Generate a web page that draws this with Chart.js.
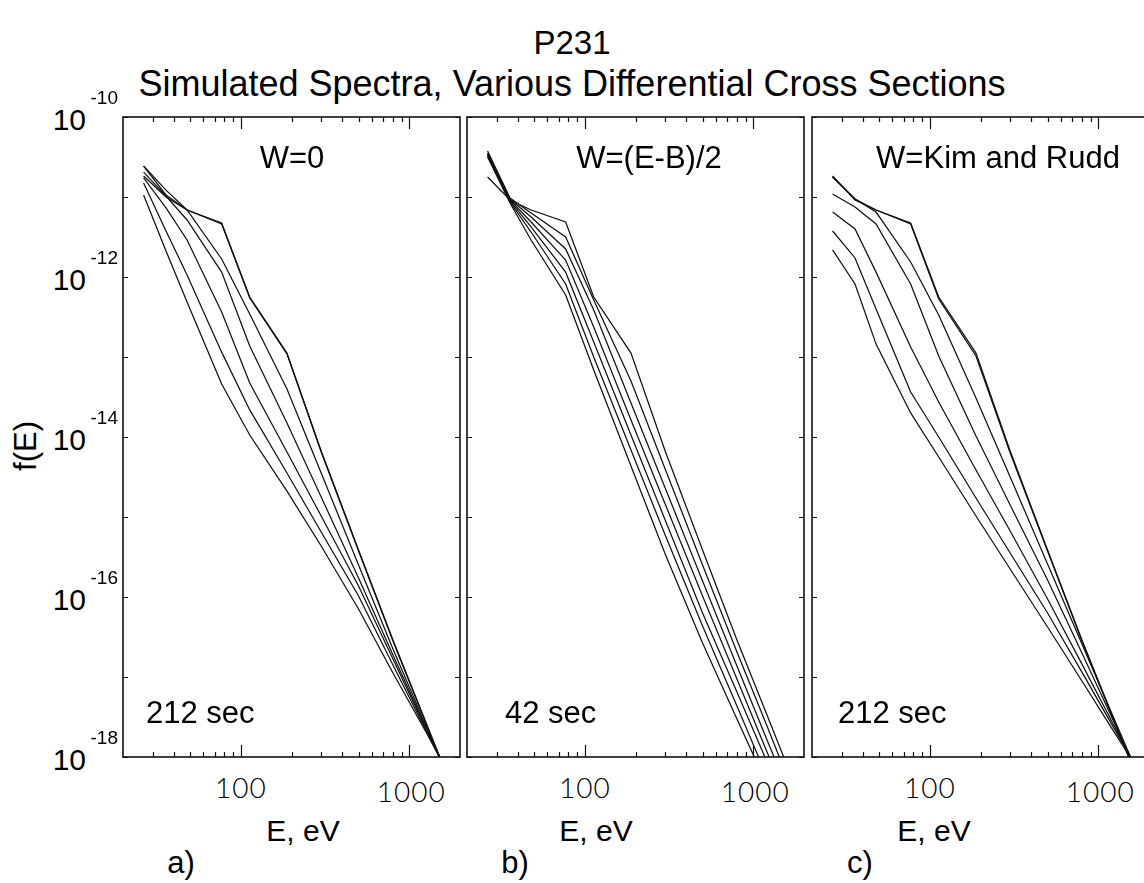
<!DOCTYPE html>
<html>
<head>
<meta charset="utf-8">
<script src="https://cdn.jsdelivr.net/npm/chart.js@4/dist/chart.umd.min.js"></script>
<style>
html,body{margin:0;padding:0;background:#fff;overflow:hidden;width:1144px;height:883px;}
#wrap{position:relative;width:1144px;height:883px;overflow:hidden;font-family:"Liberation Sans",Arial,Helvetica,sans-serif;color:#000;}
canvas.cv{position:absolute;}
.t{position:absolute;white-space:nowrap;line-height:1;}
.light{font-family:"Lato","Roboto","DejaVu Sans",sans-serif;font-weight:300;}
</style>
</head>
<body>
<div id="wrap"></div>
<script>
// ---------------- DATA ----------------
const energyEV = [26.5, 36, 48, 77, 113, 188, 300, 500, 800, 1200, 1600];

// a) W=0, 212 sec
const w0_t1 = [1.06e-11, 2.11e-12, 4.87e-13, 4.6e-14, 1.06e-14, 2.11e-15, 4.34e-16, 7.08e-17, 1.12e-17, 2.44e-18, 8.2e-19];
const w0_t2 = [1.5e-11, 3.76e-12, 1.06e-12, 1.15e-13, 2.18e-14, 3.55e-15, 6.49e-16, 1.03e-16, 1.41e-17, 2.58e-18, 7.7e-19];
const w0_t3 = [1.73e-11, 7.29e-12, 2.9e-12, 3.65e-13, 4.73e-14, 6.49e-15, 1.03e-15, 1.37e-16, 1.68e-17, 2.74e-18, 7.7e-19];
const w0_t4 = [2.05e-11, 1.03e-11, 5.16e-12, 1.15e-12, 1.37e-13, 1.5e-14, 1.78e-15, 1.73e-16, 1.88e-17, 2.9e-18, 7.7e-19];
const w0_t5 = [2.44e-11, 1.22e-11, 6.88e-12, 1.68e-12, 3.45e-13, 3.98e-14, 3.55e-15, 2.51e-16, 2.24e-17, 3.07e-18, 7.7e-19];
const w0_t6 = [2.44e-11, 1.06e-11, 6.88e-12, 4.6e-12, 5.46e-13, 1.09e-13, 6.49e-15, 3.76e-16, 2.82e-17, 3.35e-18, 7.5e-19];
const w0_t7 = [1.83e-11, 1.0e-11, 6.88e-12, 4.73e-12, 5.62e-13, 1.12e-13, 6.68e-15, 3.87e-16, 2.9e-17, 3.45e-18, 7.5e-19];

// b) W=(E-B)/2, 42 sec
const half_t1 = [3.16e-11, 8.41e-12, 2.9e-12, 5.96e-13, 6.88e-14, 4.34e-15, 3.45e-16, 2.66e-17, 2.99e-18, 4.6e-19, 1.22e-19];
const half_t2 = [3.25e-11, 8.66e-12, 3.65e-12, 8.17e-13, 1.0e-13, 6.88e-15, 5.96e-16, 4.34e-17, 4.34e-18, 5.79e-19, 1.41e-19];
const half_t3 = [3.35e-11, 8.91e-12, 4.22e-12, 1.15e-12, 1.54e-13, 1.06e-14, 9.17e-16, 6.31e-17, 6.49e-18, 8.91e-19, 2.11e-19];
const half_t4 = [3.45e-11, 9.17e-12, 4.87e-12, 1.63e-12, 2.37e-13, 1.63e-14, 1.45e-15, 1.03e-16, 9.44e-18, 1.19e-18, 2.74e-19];
const half_t5 = [3.55e-11, 9.44e-12, 5.62e-12, 2.24e-12, 3.87e-13, 2.66e-14, 2.3e-15, 1.58e-16, 1.37e-17, 1.68e-18, 3.87e-19];
const half_t6 = [3.76e-11, 9.72e-12, 6.31e-12, 3.16e-12, 5.16e-13, 5.01e-14, 3.98e-15, 2.51e-16, 2.05e-17, 2.51e-18, 5.46e-19];
const half_t7 = [1.78e-11, 9.17e-12, 6.88e-12, 4.87e-12, 5.62e-13, 1.12e-13, 6.68e-15, 3.87e-16, 2.9e-17, 3.45e-18, 7.5e-19];

// c) W=Kim and Rudd, 212 sec
const kr_t1 = [2.18e-12, 8.17e-13, 1.45e-13, 2.0e-14, 5.62e-15, 1.03e-15, 2.24e-16, 4.22e-17, 8.91e-18, 2.3e-18, 8.91e-19];
const kr_t2 = [3.76e-12, 1.73e-12, 3.98e-13, 3.65e-14, 1.0e-14, 1.73e-15, 3.55e-16, 6.31e-17, 1.15e-17, 2.58e-18, 8.91e-19];
const kr_t3 = [6.49e-12, 3.98e-12, 1.15e-12, 1.33e-13, 2.74e-14, 3.87e-15, 6.68e-16, 9.44e-17, 1.45e-17, 2.82e-18, 8.91e-19];
const kr_t4 = [1.09e-11, 7.5e-12, 4.6e-12, 8.17e-13, 1.03e-13, 1.03e-14, 1.41e-15, 1.63e-16, 2.0e-17, 3.16e-18, 8.66e-19];
const kr_t5 = [1.78e-11, 9.44e-12, 6.49e-12, 1.54e-12, 3.35e-13, 3.07e-14, 3.16e-15, 2.58e-16, 2.58e-17, 3.55e-18, 8.66e-19];
const kr_t6 = [1.78e-11, 9.44e-12, 6.88e-12, 4.6e-12, 5.31e-13, 1.03e-13, 6.31e-15, 3.76e-16, 2.82e-17, 3.35e-18, 7.5e-19];
const kr_t7 = [1.83e-11, 9.17e-12, 6.88e-12, 4.73e-12, 5.62e-13, 1.12e-13, 6.68e-15, 3.87e-16, 2.9e-17, 3.45e-18, 7.5e-19];

// axes / ticks / texts
const xRange = [20, 2000];
const yRange = [1e-18, 1e-10];
const xMajorTicks = [100, 1000];
const xMinorTicks = [30, 40, 50, 60, 70, 80, 90, 200, 300, 400, 500, 600, 700, 800, 900];
const yDecadeTicks = [1e-10, 1e-11, 1e-12, 1e-13, 1e-14, 1e-15, 1e-16, 1e-17, 1e-18];
const yLabelTicks = [1e-10, 1e-12, 1e-14, 1e-16, 1e-18];
const yLabelExponents = ["-10", "-12", "-14", "-16", "-18"];
const xTickLabels = ["100", "1000"];
const titleLines = ["P231", "Simulated Spectra, Various Differential Cross Sections"];
const yAxisTitle = "f(E)";
const xAxisTitle = "E, eV";
const panelLetters = ["a)", "b)", "c)"];
const panelHeaders = ["W=0", "W=(E-B)/2", "W=Kim and Rudd"];
const panelTimes = ["212 sec", "42 sec", "212 sec"];

// ---------------- LAYOUT ----------------
const panelSeries = [
  [w0_t1, w0_t2, w0_t3, w0_t4, w0_t5, w0_t6, w0_t7],
  [half_t1, half_t2, half_t3, half_t4, half_t5, half_t6, half_t7],
  [kr_t1, kr_t2, kr_t3, kr_t4, kr_t5, kr_t6, kr_t7]
];
const plotLefts = [123, 467, 812];
const plotTop = 117, plotW = 337, plotH = 640, PAD = 12;
const headerX = [292, 649, 998];
const timeX = [146, 505, 838];
const eLabelX = [303, 596, 934];
const letterX = [181, 515, 860];

const wrap = document.getElementById('wrap');
function addText(txt, x, baseline, fs, align, cls, extra) {
  const d = document.createElement('div');
  d.className = 't' + (cls ? ' ' + cls : '');
  d.style.fontSize = fs + 'px';
  d.textContent = txt;
  d.style.top = (baseline - 0.8465 * fs) + 'px';
  if (align === 'c') { d.style.left = x + 'px'; d.style.transform = 'translateX(-50%)'; }
  else if (align === 'r') { d.style.right = (1144 - x) + 'px'; }
  else { d.style.left = x + 'px'; }
  if (extra) Object.assign(d.style, extra);
  wrap.appendChild(d);
  return d;
}

const framePlugin = {
  id: 'frame',
  afterDatasetsDraw(chart) {
    const {ctx, chartArea: a, scales: {x, y}} = chart;
    ctx.save();
    ctx.strokeStyle = '#111';
    ctx.lineWidth = 1.2;
    ctx.beginPath();
    for (const v of yDecadeTicks) {
      const py = Math.round(y.getPixelForValue(v)) + 0.5;
      ctx.moveTo(a.left, py); ctx.lineTo(a.left + 5, py);
      ctx.moveTo(a.right, py); ctx.lineTo(a.right - 5, py);
    }
    for (const v of xMinorTicks) {
      const px = Math.round(x.getPixelForValue(v)) + 0.5;
      ctx.moveTo(px, a.bottom); ctx.lineTo(px, a.bottom - 5);
      ctx.moveTo(px, a.top); ctx.lineTo(px, a.top + 5);
    }
    for (const v of xMajorTicks) {
      const px = Math.round(x.getPixelForValue(v)) + 0.5;
      ctx.moveTo(px, a.bottom); ctx.lineTo(px, a.bottom - 12);
      ctx.moveTo(px, a.top); ctx.lineTo(px, a.top + 12);
    }
    ctx.stroke();
    ctx.lineWidth = 1.6;
    ctx.strokeRect(a.left, a.top, a.right - a.left, a.bottom - a.top);
    ctx.restore();
  }
};

const charts = [];
panelSeries.forEach((series, i) => {
  const cv = document.createElement('canvas');
  cv.className = 'cv';
  cv.width = plotW + 2 * PAD; cv.height = plotH + 2 * PAD;
  cv.style.left = (plotLefts[i] - PAD) + 'px';
  cv.style.top = (plotTop - PAD) + 'px';
  cv.style.width = (plotW + 2 * PAD) + 'px';
  cv.style.height = (plotH + 2 * PAD) + 'px';
  wrap.appendChild(cv);
  const chart = new Chart(cv, {
    type: 'line',
    data: {
      datasets: series.map((s, k) => ({
        label: panelHeaders[i] + ' #' + (k + 1),
        data: energyEV.map((e, j) => ({x: e, y: s[j]})),
        borderColor: '#111',
        borderWidth: 1.25,
        pointRadius: 0,
        tension: 0,
        fill: false
      }))
    },
    options: {
      responsive: false,
      animation: false,
      devicePixelRatio: 1,
      layout: {padding: PAD},
      plugins: {legend: {display: false}, tooltip: {enabled: false}, title: {display: false}},
      scales: {
        x: {type: 'logarithmic', min: xRange[0], max: xRange[1], display: false},
        y: {type: 'logarithmic', min: yRange[0], max: yRange[1], display: false}
      }
    },
    plugins: [framePlugin]
  });
  charts.push(chart);

  const sx = chart.scales.x, sy = chart.scales.y;
  const offX = plotLefts[i] - PAD, offY = plotTop - PAD;
  xMajorTicks.forEach((v, k) => {
    const px = sx.getPixelForValue(v) + offX;
    addText(xTickLabels[k], px + (k === 1 ? 2 : 0), 797 + (k === 1 ? 4 : 0), 28, 'c', 'light', {letterSpacing: '1px'});
  });
  addText(panelHeaders[i], headerX[i], 168, 31, 'c');
  addText(panelTimes[i], timeX[i], 723, 31, 'l');
  addText(xAxisTitle, eLabelX[i], 841, 30, 'c');
  addText(panelLetters[i], letterX[i], 873, 31, 'c');

  if (i === 0) {
    yLabelTicks.forEach((v, k) => {
      const py = sy.getPixelForValue(v) + offY;
      addText('10', 86, py + 13, 30, 'r');
      addText(yLabelExponents[k], 118, py - 13, 19, 'r');
    });
  }
});

addText(titleLines[0], 572, 54, 33, 'c');
addText(titleLines[1], 572, 96, 36, 'c');
addText(yAxisTitle, 0, 0, 31, 'l', '', {left: '25px', top: '446px', transform: 'translate(-50%,-50%) rotate(-90deg)'});
</script>
</body>
</html>
